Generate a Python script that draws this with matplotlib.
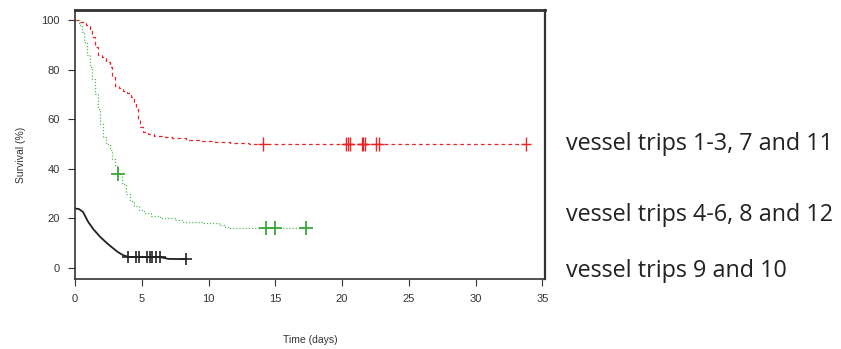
import matplotlib.pyplot as plt
import numpy as np

# Kaplan-Meier step curves (time in days, survival in %)
red_t = [0, 0.4, 0.8, 1.1, 1.3, 1.5, 1.7, 2.0, 2.3, 2.6, 2.8, 3.0, 3.3, 3.6, 3.9, 4.2, 4.4,
         4.55, 4.7, 4.85, 5.1, 5.5, 5.9, 6.5, 7.3, 8.3, 9.5, 10.5, 11.6, 13.0, 33.7]
red_s = [100, 99, 98, 96, 93, 89, 86, 85, 83, 81, 77, 73.5, 72.5, 71.5, 70.5, 69, 67,
         64, 60, 57, 55, 54, 53.3, 52.8, 52.3, 51.8, 51.2, 50.8, 50.4, 50, 50]
red_cens = [14.1, 20.3, 20.45, 20.6, 21.5, 21.6, 21.7, 22.55, 22.75, 33.8]

green_t = [0, 0.3, 0.5, 0.7, 0.9, 1.1, 1.3, 1.5, 1.7, 1.9, 2.1, 2.3, 2.6, 2.8, 3.0, 3.2,
           3.5, 3.8, 4.1, 4.4, 4.8, 5.2, 5.7, 6.4, 7.5, 8.1, 9.5, 10.8, 11.2, 11.6, 17.3]
green_s = [100, 98, 95, 91, 86, 81, 76, 70, 64, 58, 53, 50, 47.5, 44, 41, 38,
           34, 30, 27, 25, 23.5, 22.3, 21, 20.3, 19.5, 18.6, 18.1, 17.3, 16.5, 16, 16]
green_cens = [3.2, 14.3, 15.0, 17.3]

black_t = [0, 0.3, 0.6, 1.0, 1.4, 1.9, 2.4, 2.85, 3.2, 3.6, 4.0, 6.4, 7.0, 8.3]
black_s = [24, 23.8, 22.6, 18.5, 15.5, 12.5, 10, 8, 6.5, 5.2, 4.5, 4.4, 3.7, 3.6]
black_cens = [4.0, 4.6, 4.8, 5.4, 5.6, 5.8, 6.1, 6.4, 8.3]

labels = ["vessel trips 1-3, 7 and 11", "vessel trips 4-6, 8 and 12", "vessel trips 9 and 10"]
label_y = [50, 21.5, -1.2]

plt.rcParams['font.family'] = ['Liberation Sans', 'DejaVu Sans']

fig = plt.figure(figsize=(8.41, 3.49), dpi=100)
ax = fig.add_axes([75 / 841, 1 - 279 / 349, 470 / 841, 269 / 349])


def censor_y(ts, ss, cs):
    return np.interp(cs, ts, ss)


ax.step(red_t, red_s, where='post', color='#e8262a', lw=0.9, ls=(0, (3, 2.5)))
ax.plot(red_cens, censor_y(red_t, red_s, red_cens), '|', color='#e8262a', ms=10, mew=1.0)
ax.plot(red_cens, censor_y(red_t, red_s, red_cens), '_', color='#e8262a', ms=7, mew=1.0)

ax.step(green_t, green_s, where='post', color='#5cb85c', lw=0.9, ls=(0, (1, 1.5)))
ax.plot(green_cens, censor_y(green_t, green_s, green_cens), '+', color='#3aa63a', ms=10, mew=1.3)

ax.plot(black_t, black_s, color='#222222', lw=1.3)
ax.plot(black_cens, censor_y(black_t, black_s, black_cens), '+', color='#222222', ms=8, mew=1.2)

ax.set_xlim(0, 35.2)
ax.set_ylim(-4.4, 104)
ax.set_xticks([0, 5, 10, 15, 20, 25, 30, 35])
ax.set_yticks([0, 20, 40, 60, 80, 100])
ax.tick_params(labelsize=8, length=5, width=0.8, pad=6, colors='#333333')
for s in ax.spines.values():
    s.set_color('#333333')
    s.set_linewidth(1.2)
ax.spines['top'].set_linewidth(2)
ax.spines['right'].set_linewidth(1.6)

ax.set_xlabel('Time (days)', fontsize=7.5, color='#333333')
ax.set_ylabel('Survival (%)', fontsize=7.5, color='#333333')
ax.xaxis.set_label_coords(0.5, -0.21)
ax.yaxis.set_label_coords(-0.105, 0.46)

for lab, yv in zip(labels, label_y):
    ax.text(1.045, (yv + 4.4) / 108.4, lab, transform=ax.transAxes, fontsize=16.8,
            family=['Open Sans', 'DejaVu Sans'], color='#222222', va='center', ha='left')

fig.savefig('out.png', dpi=100)
